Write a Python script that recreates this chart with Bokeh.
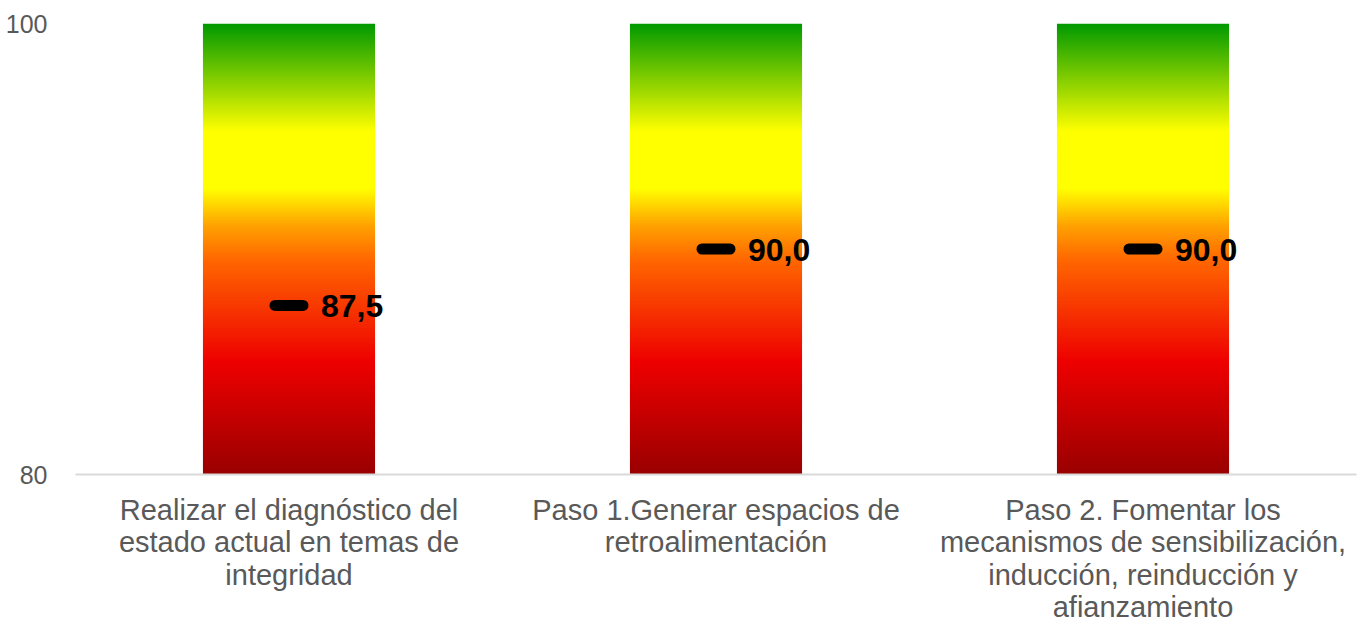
from bokeh.plotting import figure
from bokeh.models import FactorRange, Range1d, FixedTicker, ColumnDataSource
from bokeh.core.properties import value
from bokeh.embed import file_html
from bokeh.resources import INLINE
import numpy as np

# ---- data ----
categories = [
    "Realizar el diagnóstico del\nestado actual en temas de\nintegridad",
    "Paso 1.Generar espacios de\nretroalimentación",
    "Paso 2. Fomentar los\nmecanismos de sensibilización,\ninducción, reinducción y\nafianzamiento",
]
scale_max = [100, 100, 100]
results = [87.5, 90.0, 90.0]
y_ticks = [80, 100]

# ---- style: gradient stops (value, colour) ----
stops = [(80.0, "#990000"), (85.0, "#EE0000"), (89.5, "#FF6600"), (91.0, "#FFA000"),
         (92.7, "#FFFF00"), (95.2, "#FFFF00"), (100.0, "#009900")]


def hex2rgb(h):
    return np.array([int(h[i:i + 2], 16) for i in (1, 3, 5)], dtype=float)


def color_at(v):
    for (v0, c0), (v1, c1) in zip(stops[:-1], stops[1:]):
        if v0 <= v <= v1:
            t = 0 if v1 == v0 else (v - v0) / (v1 - v0)
            c = hex2rgb(c0) * (1 - t) + hex2rgb(c1) * t
            return "#%02x%02x%02x" % tuple(int(round(x)) for x in c)
    return stops[-1][1] if v > stops[-1][0] else stops[0][1]


y_start, y_end = y_ticks[0], y_ticks[-1]

p = figure(
    x_range=FactorRange(*categories, range_padding=0),
    y_range=Range1d(y_start, y_end),
    width=1366, height=626,
    output_backend="svg", toolbar_location=None,
    min_border_left=75, min_border_right=10, min_border_top=23, min_border_bottom=151,
)
p.outline_line_color = None
p.background_fill_color = "white"
p.border_fill_color = "white"

# gradient bars built from thin slices
n = 240
xs, bots, tops, cols = [], [], [], []
for cat, top in zip(categories, scale_max):
    edges = np.linspace(y_start, top, n + 1)
    for b, t in zip(edges[:-1], edges[1:]):
        xs.append(cat)
        bots.append(b)
        tops.append(min(t + (t - b) * 0.6, top))
        cols.append(color_at((b + t) / 2))
src = ColumnDataSource(dict(x=xs, bottom=bots, top=tops, color=cols))
p.vbar(x="x", bottom="bottom", top="top", width=0.403, fill_color="color",
       line_color=None, source=src)

# result markers
msrc = ColumnDataSource(dict(x=categories, y=results,
                             label=[f"{v:.1f}".replace(".", ",") for v in results]))
p.scatter(x="x", y="y", marker="dash", size=28, line_width=11, line_color="black",
          line_cap="round", source=msrc)
p.text(x="x", y="y", text="label", source=msrc, x_offset=32, y_offset=1,
       text_font=value("Liberation Sans"), text_font_style="bold",
       text_font_size="32px", text_color="black", text_baseline="middle",
       text_align="left")

# axes
p.yaxis.ticker = FixedTicker(ticks=y_ticks)
p.yaxis.axis_line_color = None
p.yaxis.major_tick_line_color = None
p.yaxis.minor_tick_line_color = None
p.yaxis.major_label_text_font = "Liberation Sans"
p.yaxis.major_label_text_font_size = "25px"
p.yaxis.major_label_text_color = "#595959"
p.yaxis.major_label_standoff = 22

p.xaxis.axis_line_color = "#d9d9d9"
p.xaxis.axis_line_width = 2
p.xaxis.major_tick_line_color = None
p.xaxis.minor_tick_line_color = None
p.xaxis.major_label_text_font = "Liberation Sans"
p.xaxis.major_label_text_font_size = "29px"
p.xaxis.major_label_text_color = "#595959"
p.xaxis.major_label_standoff = 13
p.xaxis.major_label_text_line_height = 1.02

p.xgrid.grid_line_color = None
p.ygrid.grid_line_color = "#e6e6e6"
p.ygrid.grid_line_dash = "3 2"
p.ygrid.grid_line_width = 1

open("out.html", "w").write(file_html(p, INLINE))
